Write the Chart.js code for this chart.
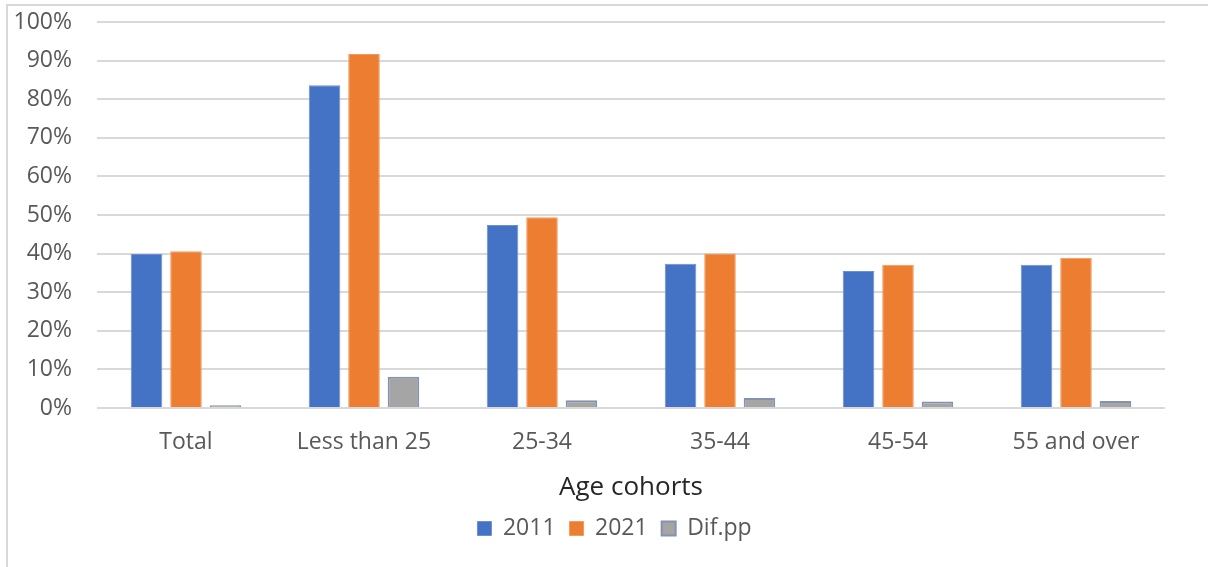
<!DOCTYPE html>
<html>
<head>
<meta charset="utf-8">
<script src="https://cdn.jsdelivr.net/npm/chart.js@4/dist/chart.umd.min.js"></script>
<style>
  html, body { margin: 0; padding: 0; background: #fff; }
  #wrap { position: relative; width: 1208px; height: 567px; overflow: hidden; }
  #frame { position: absolute; left: 6px; top: 4px; width: 1220px; height: 600px;
           border-top: 2px solid #d9d9d9; border-left: 2px solid #d9d9d9; box-sizing: border-box; }
  canvas { position: absolute; left: 0; top: 0; }
</style>
</head>
<body>
<div id="wrap">
  <div id="frame"></div>
  <canvas id="c" width="1208" height="567"></canvas>
</div>
<script>
// Age cohorts on the x axis
const categories = ['Total', 'Less than 25', '25-34', '35-44', '45-54', '55 and over'];
// Shares per cohort, in percent
const values2011 = [39.9, 83.6, 47.4, 37.4, 35.5, 37.1];
const values2021 = [40.6, 91.7, 49.4, 40.0, 37.1, 38.9];
// Difference between years, percentage points
const valuesDif = [0.7, 8.1, 2.0, 2.6, 1.7, 1.8];
// Y axis ticks
const yTicks = [0, 10, 20, 30, 40, 50, 60, 70, 80, 90, 100];

const FONT = '"Open Sans", sans-serif';

// Nudges the bottom legend to the right so it sits under the plot
const legendShift = {
  id: 'legendShift',
  afterLayout(chart) {
    const lg = chart.legend;
    if (lg) { lg.left += 32; lg.right += 32; }
  }
};

new Chart(document.getElementById('c'), {
  type: 'bar',
  plugins: [legendShift],
  data: {
    labels: categories,
    datasets: [
      { label: '2011', data: values2011, backgroundColor: '#4472C4', borderColor: '#6d8fd0', borderWidth: 1 },
      { label: '2021', data: values2021, backgroundColor: '#ED7D31', borderColor: '#f39a5e', borderWidth: 1 },
      { label: 'Dif.pp', data: valuesDif, backgroundColor: '#A5A5A5', borderColor: '#8393ad', borderWidth: 2 }
    ]
  },
  options: {
    responsive: false,
    animation: false,
    devicePixelRatio: 1,
    datasets: { bar: { categoryPercentage: 0.665, barPercentage: 0.8 } },
    layout: { padding: { top: 22, right: 43, bottom: 17, left: 0 } },
    plugins: {
      tooltip: { enabled: false },
      legend: {
        position: 'bottom',
        labels: {
          font: { family: FONT, size: 23 },
          color: '#595959',
          boxWidth: 14,
          boxHeight: 14,
          padding: 14
        }
      }
    },
    scales: {
      x: {
        grid: { display: false, drawTicks: false },
        border: { display: false },
        afterFit: (scale) => { scale.height = 95; },
        ticks: { font: { family: FONT, size: 23 }, color: '#595959', padding: 21 },
        title: {
          display: true,
          text: 'Age cohorts',
          font: { family: FONT, size: 26 },
          color: '#262626',
          padding: { top: 18, bottom: 0 }
        }
      },
      y: {
        min: 0,
        max: 100,
        afterBuildTicks: (scale) => { scale.ticks = yTicks.map(v => ({ value: v })); },
        afterFit: (scale) => { scale.width = 97; scale.paddingTop = 0; scale.paddingBottom = 0; },
        grid: { color: '#d9d9d9', lineWidth: 2, drawTicks: false },
        border: { display: false },
        ticks: {
          font: { family: FONT, size: 23 },
          color: '#595959',
          padding: 25,
          callback: (v) => v + '%'
        }
      }
    }
  }
});
</script>
</body>
</html>
